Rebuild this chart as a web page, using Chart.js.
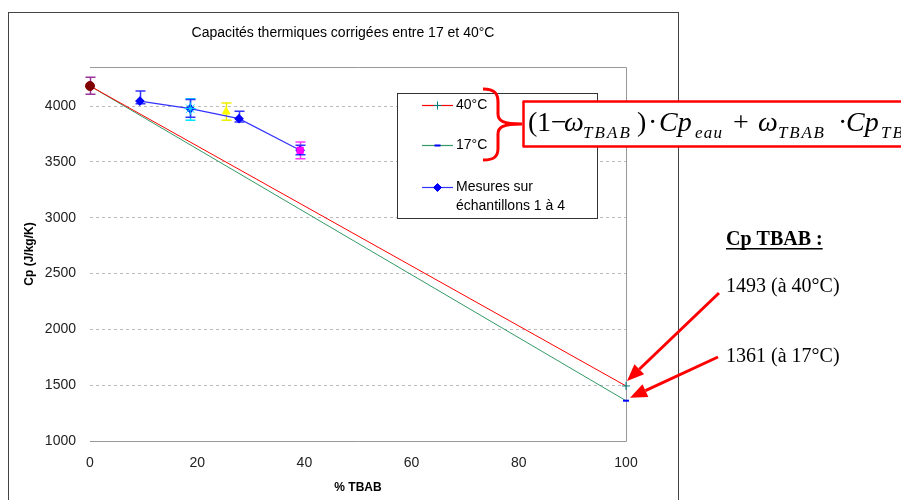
<!DOCTYPE html>
<html>
<head>
<meta charset="utf-8">
<script src="https://cdn.jsdelivr.net/npm/chart.js@4.4.1/dist/chart.umd.min.js"></script>
<style>
  body { margin: 0; background: #fff; }
  canvas { display: block; }
</style>
</head>
<body>
<canvas id="cpChart" width="901" height="500"></canvas>
<script>
// droites de correction (eau -> TBAB pur)
const tbabPct = [0, 100];
const cp40 = [4180, 1493];
const cp17 = [4180, 1361];

// mesures sur échantillons 1 à 4
const mesuresPct = [9.3, 18.7, 27.8, 39.2];
const mesuresCp = [4045, 3977, 3887, 3604];
const mesuresLow = [4021, 3900, 3857, 3565];
const mesuresHigh = [4134, 4060, 3953, 3650];

// points individuels (eau pure + échantillons)
const echPct = [0, 18.7, 25.4, 39.2];
const echCp = [4180, 3977, 3950, 3604];
const echLow = [4105, 3872, 3872, 3529];
const echHigh = [4259, 4066, 4027, 3678];
const echColors = ['#800000', '#00e5ff', '#ffff00', '#ff00ff'];
const echErrColors = ['#993399', '#00e5ff', '#eeee00', '#ff33ff'];
const echStyles = ['circle', 'star', 'triangle', 'rect'];

const xTicks = [0, 20, 40, 60, 80, 100];
const yTicks = [1000, 1500, 2000, 2500, 3000, 3500, 4000];

const pts = (xs, ys) => xs.map((x, i) => ({x: x, y: ys[i]}));

const datasets = [];
// points colorés au-dessus
echPct.forEach((x, i) => {
    datasets.push({
        label: 'ech' + i,
        data: [{x: x, y: echCp[i]}],
        clip: false,
        pointStyle: echStyles[i],
        pointRadius: echStyles[i] === 'star' ? 6 : 4.5,
        backgroundColor: echColors[i],
        borderColor: echColors[i],
        pointBorderWidth: 1,
        errLow: [echLow[i]],
        errHigh: [echHigh[i]],
        errColor: echErrColors[i]
    });
});
datasets.push({
    label: 'Mesures sur échantillons 1 à 4',
    data: pts(mesuresPct, mesuresCp),
    clip: false,
    showLine: true,
    borderColor: '#3333ff',
    borderWidth: 1.2,
    pointStyle: 'rectRot',
    pointRadius: 4,
    backgroundColor: '#0000ff',
    pointBorderColor: '#0000ff',
    errLow: mesuresLow,
    errHigh: mesuresHigh,
    errColor: '#3333ff'
});
datasets.push({
    label: '40°C',
    data: pts(tbabPct, cp40),
    clip: false,
    showLine: true,
    borderColor: '#ff0000',
    borderWidth: 1,
    pointStyle: 'cross',
    pointRadius: 4,
    pointBorderColor: '#008080',
    pointBorderWidth: 1
});
datasets.push({
    label: '17°C',
    data: pts(tbabPct, cp17),
    clip: false,
    showLine: true,
    borderColor: '#339966',
    borderWidth: 1,
    pointStyle: 'line',
    pointRadius: 3,
    pointBorderColor: '#0000ff',
    pointBorderWidth: 2
});

// écrit les lettres d'un indice réparties entre x0 et x1
function spread(ctx, s, x0, x1, y) {
    const w = ctx.measureText(s).width;
    const gap = s.length > 1 ? Math.max(0, (x1 - x0 - w) / (s.length - 1)) : 0;
    let x = x0;
    for (const ch of s) {
        ctx.fillText(ch, x, y);
        x += ctx.measureText(ch).width + gap;
    }
}

function arrow(ctx, x0, y0, x1, y1) {
    const ang = Math.atan2(y1 - y0, x1 - x0);
    const len = 17, half = 7;
    const bx = x1 - len * Math.cos(ang), by = y1 - len * Math.sin(ang);
    ctx.beginPath();
    ctx.moveTo(x0, y0);
    ctx.lineTo(bx, by);
    ctx.stroke();
    ctx.beginPath();
    ctx.moveTo(x1, y1);
    ctx.lineTo(bx + half * Math.sin(ang), by - half * Math.cos(ang));
    ctx.lineTo(bx - half * Math.sin(ang), by + half * Math.cos(ang));
    ctx.closePath();
    ctx.fill();
}

const decorations = {
    id: 'decorations',
    beforeDatasetsDraw(chart) {
        const {ctx, chartArea: a} = chart;
        ctx.save();
        // cadre de la zone de tracé
        ctx.strokeStyle = '#999';
        ctx.lineWidth = 1;
        ctx.beginPath();
        ctx.moveTo(a.left, a.top + 0.5);
        ctx.lineTo(a.right + 0.5, a.top + 0.5);
        ctx.lineTo(a.right + 0.5, a.bottom + 0.5);
        ctx.lineTo(a.left, a.bottom + 0.5);
        ctx.stroke();
        // barres d'erreur
        const xs = chart.scales.x, ys = chart.scales.y;
        chart.data.datasets.forEach((ds, i) => {
            if (!ds.errLow) return;
            ctx.strokeStyle = ds.errColor;
            ctx.lineWidth = 1.5;
            ds.data.forEach((p, j) => {
                const px = Math.round(xs.getPixelForValue(p.x)) + 0.5;
                const yl = ys.getPixelForValue(ds.errLow[j]);
                const yh = ys.getPixelForValue(ds.errHigh[j]);
                ctx.beginPath();
                ctx.moveTo(px, yl); ctx.lineTo(px, yh);
                ctx.moveTo(px - 5, yl); ctx.lineTo(px + 5, yl);
                ctx.moveTo(px - 5, yh); ctx.lineTo(px + 5, yh);
                ctx.stroke();
            });
        });
        ctx.restore();
    },
    afterDraw(chart) {
        const ctx = chart.ctx;
        const xs = chart.scales.x, ys = chart.scales.y;
        ctx.save();

        // bordure du graphique
        ctx.strokeStyle = '#444';
        ctx.lineWidth = 1;
        ctx.strokeRect(8.5, 12.5, 670, 520);

        // titre
        ctx.fillStyle = '#000';
        ctx.font = '14px "Liberation Sans", Arial, sans-serif';
        ctx.textAlign = 'center';
        ctx.textBaseline = 'middle';
        ctx.fillText('Capacités thermiques corrigées entre 17 et 40°C', 343, 33);

        // légende
        ctx.fillStyle = '#fff';
        ctx.fillRect(397, 93, 200, 125);
        ctx.strokeStyle = '#333';
        ctx.strokeRect(397.5, 93.5, 200, 125);
        const legendRows = [
            {ds: chart.data.datasets[5], y: 105, lines: ['40°C']},
            {ds: chart.data.datasets[6], y: 145, lines: ['17°C']},
            {ds: chart.data.datasets[4], y: 187, lines: ['Mesures sur', 'échantillons 1 à 4']}
        ];
        ctx.textAlign = 'left';
        legendRows.forEach(r => {
            ctx.strokeStyle = r.ds.borderColor;
            ctx.lineWidth = 1.2;
            ctx.beginPath();
            ctx.moveTo(422, r.y + 0.5);
            ctx.lineTo(453, r.y + 0.5);
            ctx.stroke();
            ctx.strokeStyle = r.ds.pointBorderColor;
            ctx.fillStyle = r.ds.backgroundColor || r.ds.pointBorderColor;
            ctx.lineWidth = r.ds.pointBorderWidth || 1;
            Chart.helpers.drawPoint(ctx, {pointStyle: r.ds.pointStyle, radius: r.ds.pointRadius, borderWidth: r.ds.pointBorderWidth || 1, rotation: 0}, 437.5, r.y + 0.5);
            ctx.fillStyle = '#000';
            ctx.font = '14px "Liberation Sans", Arial, sans-serif';
            r.lines.forEach((t, k) => ctx.fillText(t, 456, r.y + k * 19));
        });

        // accolade
        ctx.strokeStyle = '#ff0000';
        ctx.lineWidth = 3;
        ctx.lineJoin = 'round';
        ctx.beginPath();
        ctx.moveTo(483, 89);
        ctx.bezierCurveTo(495, 89, 498, 94, 498, 102);
        ctx.lineTo(498, 114);
        ctx.bezierCurveTo(498, 121, 503, 124, 522, 124);
        ctx.moveTo(522, 124);
        ctx.bezierCurveTo(503, 124, 498, 127, 498, 134);
        ctx.lineTo(498, 148);
        ctx.bezierCurveTo(498, 156, 495, 160, 483, 160);
        ctx.stroke();

        // formule
        ctx.fillStyle = '#fff';
        ctx.fillRect(523, 101, 400, 45);
        ctx.strokeStyle = '#ff0000';
        ctx.lineWidth = 2.5;
        ctx.strokeRect(523.5, 101.5, 400, 45);
        ctx.fillStyle = '#000';
        ctx.textBaseline = 'alphabetic';
        const main = '28px "Liberation Serif", "Times New Roman", serif';
        const ital = 'italic 28px "Liberation Serif", "Times New Roman", serif';
        const sub = 'italic 17px "Liberation Serif", "Times New Roman", serif';
        const base = 131, subBase = 138;
        const put = (s, x, f) => { ctx.font = f; ctx.fillText(s, x, base); };
        put('(', 528, main);
        put('1', 537, main);
        put('\u2212', 551, main);
        put('\u03c9', 564, ital);
        ctx.font = sub; spread(ctx, 'TBAB', 583, 630, subBase);
        put(')', 637, main);
        put('\u00b7', 648, main);
        put('Cp', 659, ital);
        ctx.font = sub; spread(ctx, 'eau', 695, 722, subBase);
        put('+', 733, main);
        put('\u03c9', 758, ital);
        ctx.font = sub; spread(ctx, 'TBAB', 778, 824, subBase);
        put('\u00b7', 838, main);
        put('Cp', 846, ital);
        ctx.font = sub; spread(ctx, 'TBAB', 881, 928, subBase);

        // valeurs Cp TBAB
        ctx.font = 'bold 20px "Liberation Serif", "Times New Roman", serif';
        ctx.fillText('Cp TBAB :', 726, 245);
        const w = ctx.measureText('Cp TBAB :').width;
        ctx.fillRect(726, 248, w, 1.5);
        ctx.font = '20px "Liberation Serif", "Times New Roman", serif';
        ctx.fillText('1493 (à 40°C)', 726, 292);
        ctx.fillText('1361 (à 17°C)', 726, 362);

        // flèches
        ctx.strokeStyle = '#ff0000';
        ctx.fillStyle = '#ff0000';
        ctx.lineWidth = 3;
        const xEnd = xs.getPixelForValue(tbabPct[1]);
        arrow(ctx, 719, 293, xEnd + 1, ys.getPixelForValue(cp40[1]) - 5);
        arrow(ctx, 718, 357, xEnd + 4, ys.getPixelForValue(cp17[1]) - 3);

        ctx.restore();
    }
};

const tickFont = {family: '"Liberation Sans", Arial, sans-serif', size: 14};
const titleFont = {family: '"Liberation Sans", Arial, sans-serif', size: 12, weight: 'bold'};

new Chart(document.getElementById('cpChart'), {
    type: 'scatter',
    data: {datasets: datasets},
    options: {
        responsive: false,
        animation: false,
        layout: {padding: {left: 8, top: 67, right: 275, bottom: 0}},
        plugins: {
            legend: {display: false},
            title: {display: false},
            tooltip: {enabled: false}
        },
        scales: {
            x: {
                type: 'linear',
                min: 0,
                max: 100,
                afterBuildTicks: s => { s.ticks = xTicks.map(v => ({value: v})); },
                afterFit: s => { s.height = 59; },
                grid: {display: false, drawTicks: false},
                border: {display: false},
                ticks: {font: tickFont, color: '#222', padding: 14, maxRotation: 0, callback: v => String(v)},
                title: {display: true, text: '% TBAB', font: titleFont, color: '#000', padding: {top: 0, bottom: 5}}
            },
            y: {
                type: 'linear',
                min: 1000,
                max: 4350,
                afterBuildTicks: s => { s.ticks = yTicks.map(v => ({value: v})); },
                afterFit: s => { s.width = 82; },
                grid: {color: '#bbb', drawTicks: false},
                border: {display: false, dash: [3, 3]},
                ticks: {font: tickFont, color: '#222', padding: 14, callback: v => String(v)},
                title: {display: true, text: 'Cp (J/kg/K)', font: titleFont, color: '#000', padding: {top: 14, bottom: 0}}
            }
        }
    },
    plugins: [decorations]
});
</script>
</body>
</html>
